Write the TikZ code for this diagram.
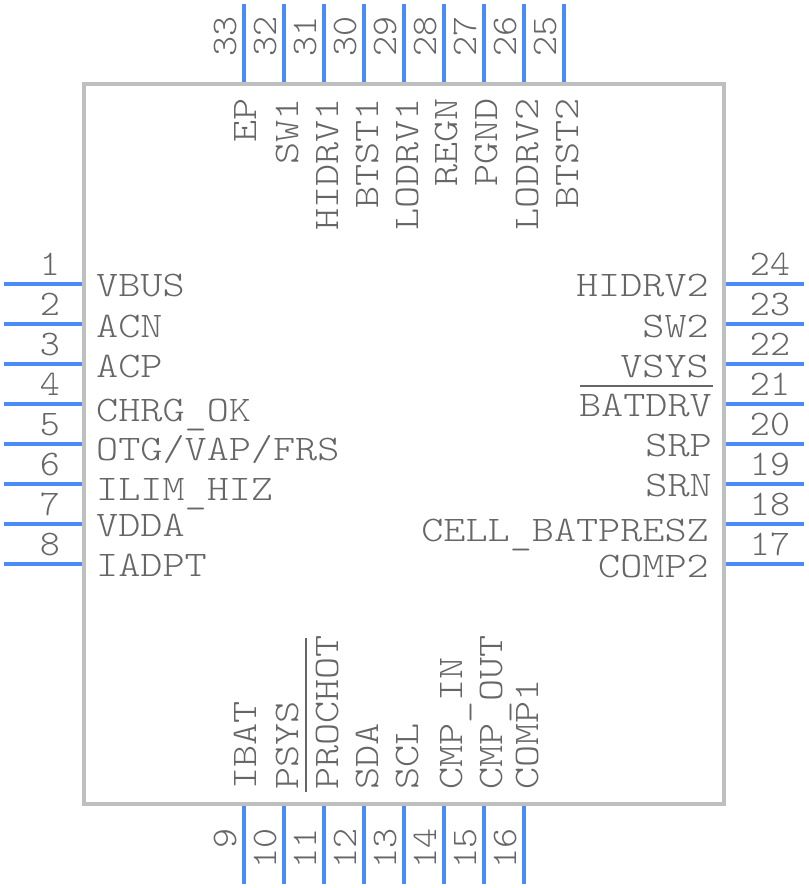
\documentclass[tikz,border=0pt]{standalone}
\usepackage{fontspec}
\usepackage{tikz}
\usetikzlibrary{positioning}
\newfontfamily\pinfont[FakeStretch=1.17]{Latin Modern Mono Light}
\newfontfamily\numfont[FakeStretch=1.06]{Latin Modern Mono Light}
\newcommand{\lowbar}{\raisebox{-3pt}{\textunderscore}}
\definecolor{pinblue}{HTML}{4A8CF7}
\definecolor{bodygrey}{HTML}{BFBFBF}
\definecolor{textgrey}{HTML}{666666}
\tikzstyle{pin}=[draw=pinblue,line width=4]
\tikzstyle{bar}=[draw=textgrey,line width=2]
\tikzstyle{body}=[draw=bodygrey,line width=4]
\tikzstyle{lab}=[text=textgrey,inner sep=0pt,font=\pinfont\fontsize{36}{36}\selectfont]
\tikzstyle{num}=[text=textgrey,inner sep=0pt,font=\numfont\fontsize{36}{36}\selectfont]
\begin{document}
\begin{tikzpicture}[x=1pt,y=-1pt]
  \useasboundingbox (0,0) rectangle (808,888);
  \draw [body] (84,84) rectangle (724,804);

  % left side
  \foreach \n/\y in {1/284,2/324,3/364,4/404,5/444,6/484,7/524,8/564} {
    \coordinate (p\n a) at (4,\y);
    \coordinate (p\n b) at (82,\y);
    \draw [pin] (p\n a) -- (p\n b);
    \node [num, anchor=base] (n\n) at (50,\y-9) {\n};
  }
  % right side
  \foreach \n/\y in {24/284,23/324,22/364,21/404,20/444,19/484,18/524,17/564} {
    \coordinate (p\n a) at (726,\y);
    \coordinate (p\n b) at (804,\y);
    \draw [pin] (p\n a) -- (p\n b);
    \node [num, anchor=base] (n\n) at (770,\y-9) {\n};
  }
  % top side
  \foreach \n/\x in {33/244,32/284,31/324,30/364,29/404,28/444,27/484,26/524,25/564} {
    \coordinate (p\n a) at (\x,4);
    \coordinate (p\n b) at (\x,82);
    \draw [pin] (p\n a) -- (p\n b);
    \node [num, rotate=90, anchor=base east] (n\n) at (\x-8,16) {\n};
  }
  % bottom side
  \foreach \n/\x in {9/244,10/284,11/324,12/364,13/404,14/444,15/484,16/524} {
    \coordinate (p\n a) at (\x,806);
    \coordinate (p\n b) at (\x,884);
    \draw [pin] (p\n a) -- (p\n b);
    \node [num, rotate=90, anchor=base east] (n\n) at (\x-8,828) {\n};
  }

  \node [lab, anchor=base west] (vbus) at (96,296) {VBUS};
  \node [lab, anchor=base west] (acn) at (96,337) {ACN};
  \node [lab, anchor=base west] (acp) at (96,377) {ACP};
  \node [lab, anchor=base west] (chrgok) at (96,421) {CHRG\lowbar OK};
  \node [lab, anchor=base west] (otg) at (96,460) {OTG/VAP/FRS};
  \node [lab, anchor=base west] (ilim) at (96,500) {ILIM\lowbar HIZ};
  \node [lab, anchor=base west] (vdda) at (96,536) {VDDA};
  \node [lab, anchor=base west] (iadpt) at (96,576) {IADPT};

  \node [lab, anchor=base east] (hidrvb) at (709,296) {HIDRV2};
  \node [lab, anchor=base east] (swb) at (709,337) {SW2};
  \node [lab, anchor=base east] (vsys) at (709,377) {VSYS};
  \node [lab, anchor=base east] (batdrv) at (712,416) {BATDRV};
  \node [lab, anchor=base east] (srp) at (712,456) {SRP};
  \node [lab, anchor=base east] (srn) at (712,496) {SRN};
  \node [lab, anchor=base east] (cell) at (709,541) {CELL\lowbar BATPRESZ};
  \node [lab, anchor=base east] (compb) at (709,577) {COMP2};
  \coordinate (batl) at (580,386);
  \coordinate (batr) at (713,386);
  \draw [bar] (batl) -- (batr);

  \foreach \t/\x in {EP/256,SW1/298,HIDRV1/338,BTST1/378,LODRV1/418,REGN/457,PGND/497,LODRV2/538,BTST2/578} {
    \node [lab, rotate=90, anchor=base east] (top\t) at (\x,98) {\t};
  }

  \node [lab, rotate=90, anchor=base west] (ibat) at (256,790) {IBAT};
  \node [lab, rotate=90, anchor=base west] (psys) at (298,790) {PSYS};
  \node [lab, rotate=90, anchor=base west] (prochot) at (338,790) {PROCHOT};
  \node [lab, rotate=90, anchor=base west] (sda) at (378,790) {SDA};
  \node [lab, rotate=90, anchor=base west] (scl) at (418,790) {SCL};
  \node [lab, rotate=90, anchor=base west] (cmpin) at (462,790) {CMP\lowbar IN};
  \node [lab, rotate=90, anchor=base west] (cmpout) at (502,790) {CMP\lowbar OUT};
  \node [lab, rotate=90, anchor=base west] (compa) at (538,790) {COMP1};
  \coordinate (prot) at (306,638);
  \coordinate (prob) at (306,792);
  \draw [bar] (prot) -- (prob);
\end{tikzpicture}
\end{document}
